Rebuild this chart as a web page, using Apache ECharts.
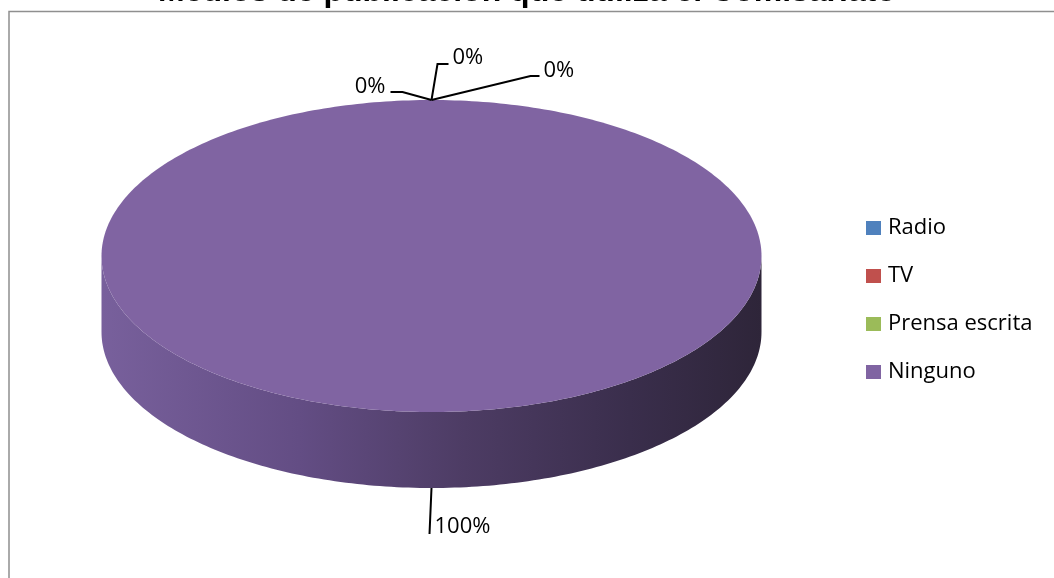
<!DOCTYPE html>
<html>
<head>
<meta charset="utf-8">
<title>Medios de publicación que utiliza el Comisariato</title>
<script src="https://cdn.jsdelivr.net/npm/echarts@6/dist/echarts.min.js"></script>
<style>
  html, body { margin: 0; padding: 0; background: #ffffff; }
  #chart { width: 1054px; height: 578px; }
</style>
</head>
<body>
<div id="chart"></div>
<script>
// Survey data: which media the Comisariato uses to publish
const categories = ['Radio', 'TV', 'Prensa escrita', 'Ninguno'];
const percentages = [0, 0, 0, 100];
const sliceColors = ['#4F81BD', '#C0504D', '#9BBB59', '#8064A2'];

// 3D pie geometry (top ellipse + extruded rim)
const PIE = { cx: 431.5, cy: 256, rx: 330, ry: 156, depth: 76 };

// Leader-line layout for each label, relative to the slice anchor point
const labelLayout = [
  { elbow: [-29, -8], end: [-41, -8], text: [-46, -13], align: 'right' },
  { elbow: [6, -36], end: [17, -36], text: [21, -42], align: 'left' },
  { elbow: [99, -24], end: [108, -24], text: [112, -29], align: 'left' },
  { elbow: [-1, 23], end: [-2, 46], text: [3, 39], align: 'left' }
];

const total = percentages.reduce((s, v) => s + v, 0);
const cumulative = percentages.map((_, i) =>
  percentages.slice(0, i).reduce((s, v) => s + v, 0));

function ellipsePoint(theta, dy) {
  return [PIE.cx + PIE.rx * Math.cos(theta), PIE.cy + PIE.ry * Math.sin(theta) + (dy || 0)];
}

function arcPoints(a, b, dy) {
  const n = Math.max(2, Math.ceil((b - a) / (Math.PI / 180)));
  const pts = [];
  for (let k = 0; k <= n; k++) pts.push(ellipsePoint(a + (b - a) * k / n, dy));
  return pts;
}

function renderSlice(params, api) {
  const i = params.dataIndex;
  const v = api.value(0);
  // slices start at 12 o'clock and run clockwise
  const a = -Math.PI / 2 + 2 * Math.PI * cumulative[i] / total;
  const b = a + 2 * Math.PI * v / total;
  const children = [];

  if (v > 0) {
    // visible front rim: the part of the slice lying in the lower half of the ellipse
    for (let k = -1; k <= 1; k++) {
      const lo = Math.max(a, 2 * Math.PI * k);
      const hi = Math.min(b, 2 * Math.PI * k + Math.PI);
      if (hi > lo) {
        const pts = arcPoints(lo, hi, 0).concat(arcPoints(lo, hi, PIE.depth).reverse());
        children.push({
          type: 'polygon',
          shape: { points: pts },
          style: {
            fill: new echarts.graphic.LinearGradient(0, 0, 1, 0, [
              { offset: 0, color: '#78609c' },
              { offset: 0.3, color: '#634d84' },
              { offset: 0.55, color: '#4d3c64' },
              { offset: 0.8, color: '#3a2e4c' },
              { offset: 1, color: '#2e2539' }
            ])
          },
          z2: 1
        });
      }
    }
    // top face
    const full = (b - a) >= 2 * Math.PI - 1e-9;
    const topPts = full ? arcPoints(a, b, 0) : [[PIE.cx, PIE.cy]].concat(arcPoints(a, b, 0));
    children.push({
      type: 'polygon',
      shape: { points: topPts },
      style: { fill: sliceColors[i] },
      z2: 2
    });
  }

  // label anchor: middle of the slice on the outer edge (bottom of the rim when facing front)
  const mid = (a + b) / 2;
  const anchor = ellipsePoint(mid, Math.sin(mid) > 0.01 ? PIE.depth : 0);
  const L = labelLayout[i];
  children.push({
    type: 'polyline',
    shape: {
      points: [anchor,
        [anchor[0] + L.elbow[0], anchor[1] + L.elbow[1]],
        [anchor[0] + L.end[0], anchor[1] + L.end[1]]]
    },
    style: { stroke: '#000000', lineWidth: 2, fill: null },
    z2: 10
  });
  children.push({
    type: 'text',
    x: anchor[0] + L.text[0],
    y: anchor[1] + L.text[1],
    style: {
      text: Math.round(v / total * 100) + '%',
      fill: '#000000',
      font: '22px "Open Sans"',
      align: L.align,
      verticalAlign: 'middle'
    },
    z2: 10
  });

  return { type: 'group', children: children };
}

const chart = echarts.init(document.getElementById('chart'), null, { renderer: 'canvas' });

chart.setOption({
  animation: false,
  backgroundColor: '#ffffff',
  title: {
    text: 'Medios de publicación que utiliza el Comisariato',
    left: 'center',
    top: -24,
    padding: 0,
    textStyle: {
      fontFamily: 'Liberation Sans',
      fontWeight: 'bold',
      fontSize: 32,
      color: '#000000'
    }
  },
  graphic: [{
    type: 'rect',
    shape: { x: 9, y: 11.5, width: 2000, height: 2000 },
    style: { fill: null, stroke: '#8f8f8f', lineWidth: 1.5 },
    silent: true,
    z: -1
  }],
  legend: {
    orient: 'vertical',
    left: 866,
    top: 217,
    padding: 0,
    itemGap: 26,
    itemWidth: 15,
    itemHeight: 14,
    icon: 'rect',
    selectedMode: false,
    data: categories,
    textStyle: { fontFamily: 'Open Sans', fontSize: 22, color: '#000000', padding: [0, 0, 0, 2] }
  },
  series: [
    {
      // flat pie supplying the legend entries and colours
      type: 'pie',
      name: 'leyenda',
      radius: [0, 0],
      center: [PIE.cx, PIE.cy],
      silent: true,
      label: { show: false },
      labelLine: { show: false },
      data: categories.map((c, i) => ({ name: c, value: percentages[i], itemStyle: { color: sliceColors[i] } }))
    },
    {
      type: 'custom',
      name: 'Medios',
      coordinateSystem: 'none',
      silent: true,
      renderItem: renderSlice,
      data: percentages
    }
  ]
});
</script>
</body>
</html>
